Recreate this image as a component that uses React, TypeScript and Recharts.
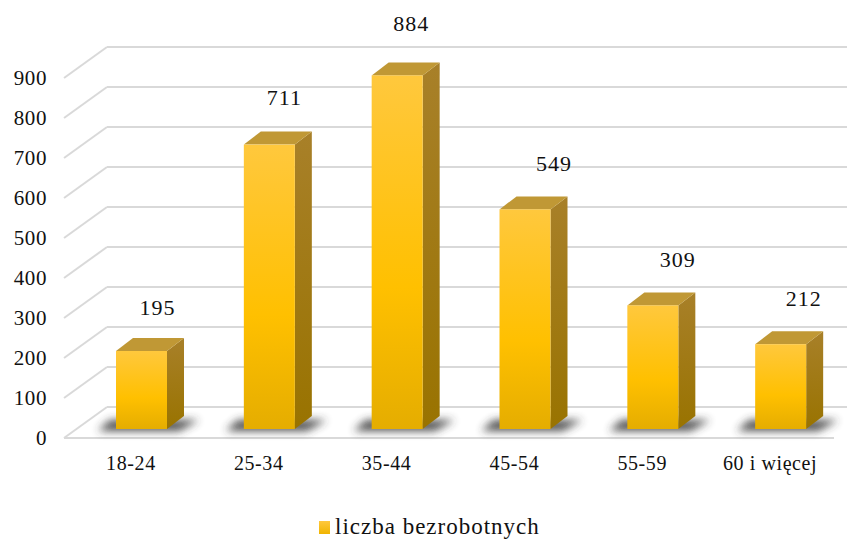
import { Bar, BarChart, CartesianGrid, LabelList, XAxis, YAxis } from "recharts"

const ageGroups = ["18-24", "25-34", "35-44", "45-54", "55-59", "60 i więcej"]
const unemployed = [195, 711, 884, 549, 309, 212]
const yTicks = [0, 100, 200, 300, 400, 500, 600, 700, 800, 900]
const seriesName = "liczba bezrobotnych"

const data = ageGroups.map((group, i) => ({ group, unemployed: unemployed[i] }))

const FONT = "'Liberation Serif', 'Times New Roman', serif"
const DEPTH_X = 17
const DEPTH_Y = 13
// hand-tuned nudge of the value labels, the source chart places them unevenly
const labelNudgeX = [16, 15, 14, 29, 25, 23]
const labelNudgeY = [36, 40, 44, 38, 38, 38]

function Bar3D(props: any) {
  const { x, y, width, height } = props
  const right = x + width
  const base = y + height
  return (
    <g>
      <path
        d={`M${x - 18} ${base + 2} L${x - 6} ${base - 9} H${right + 32} L${right + 12} ${base + 2} Z`}
        fill="#333"
        opacity={0.85}
        filter="url(#floorShadow)"
      />
      <path
        d={`M${right} ${y} L${right + DEPTH_X} ${y - DEPTH_Y} V${base - DEPTH_Y} L${right} ${base} Z`}
        fill="url(#sideFace)"
      />
      <path
        d={`M${x} ${y} L${x + DEPTH_X} ${y - DEPTH_Y} H${right + DEPTH_X} L${right} ${y} Z`}
        fill="#C09835"
      />
      <rect x={x} y={y} width={width} height={height} fill="url(#frontFace)" />
    </g>
  )
}

function GridLine(props: any) {
  const { x1, x2, y1 } = props
  const backY = y1 - 22
  const backX = x1 + 29
  const frontX = x1 - 14
  return (
    <g stroke="#D9D9D9" strokeWidth={2} fill="none">
      <line x1={backX} x2={x2 + 2} y1={backY} y2={backY} />
      <line x1={backX} x2={frontX} y1={backY} y2={y1 + 9} />
      {y1 > 420 && <line x1={frontX} x2={x2 - 11} y1={y1 + 9} y2={y1 + 9} />}
    </g>
  )
}

function ValueLabel(props: any) {
  const { x, y, width, value, index } = props
  return (
    <text
      x={x + width / 2 + labelNudgeX[index]}
      y={y - labelNudgeY[index]}
      textAnchor="middle"
      fontFamily={FONT}
      fontSize={22}
      letterSpacing={1}
      fill="#111"
    >
      {value}
    </text>
  )
}

function YTick(props: any) {
  const { y, payload } = props
  return (
    <text x={47} y={y + 16} textAnchor="end" fontFamily={FONT} fontSize={21} letterSpacing={0.6} fill="#111">
      {payload.value}
    </text>
  )
}

function XTick(props: any) {
  const { x, y, payload } = props
  return (
    <text x={x - 11} y={y + 33} textAnchor="middle" fontFamily={FONT} fontSize={20} letterSpacing={0.6} fill="#111">
      {payload.value}
    </text>
  )
}

function Legend() {
  return (
    <div
      style={{
        position: "absolute",
        left: 319,
        top: 515,
        display: "flex",
        alignItems: "center",
        fontFamily: FONT,
        fontSize: 23,
        letterSpacing: 1,
        lineHeight: "24px",
        color: "#111",
      }}
    >
      <span style={{ width: 11, height: 13, marginRight: 5, background: "linear-gradient(#FFC83D, #F0B400)" }} />
      {seriesName}
    </div>
  )
}

export default function App() {
  return (
    <div style={{ position: "absolute", left: 0, top: 0, width: 866, height: 540, background: "#fff" }}>
      <BarChart width={866} height={540} data={data} margin={{ top: 69, right: 21, bottom: 0, left: 1 }}>
        <defs>
          <linearGradient id="frontFace" x1="0" y1="0" x2="0" y2="1">
            <stop offset="0" stopColor="#FFC83D" />
            <stop offset="0.6" stopColor="#FFC000" />
            <stop offset="1" stopColor="#E5AD00" />
          </linearGradient>
          <linearGradient id="sideFace" x1="0" y1="0" x2="0" y2="1">
            <stop offset="0" stopColor="#A88029" />
            <stop offset="1" stopColor="#997300" />
          </linearGradient>
          <filter id="floorShadow" x="-30%" y="-100%" width="160%" height="300%">
            <feGaussianBlur stdDeviation="4" />
          </filter>
        </defs>
        <CartesianGrid vertical={false} horizontal={(p: any) => <GridLine key={p.key} {...p} />} />
        <XAxis dataKey="group" axisLine={false} tickLine={false} tick={<XTick />} interval={0} height={111} />
        <YAxis
          width={77}
          domain={[0, 900]}
          ticks={yTicks}
          axisLine={false}
          tickLine={false}
          tick={<YTick />}
          interval={0}
        />
        <Bar dataKey="unemployed" barSize={51} shape={<Bar3D />} isAnimationActive={false}>
          <LabelList dataKey="unemployed" content={<ValueLabel />} />
        </Bar>
      </BarChart>
      <Legend />
    </div>
  )
}
